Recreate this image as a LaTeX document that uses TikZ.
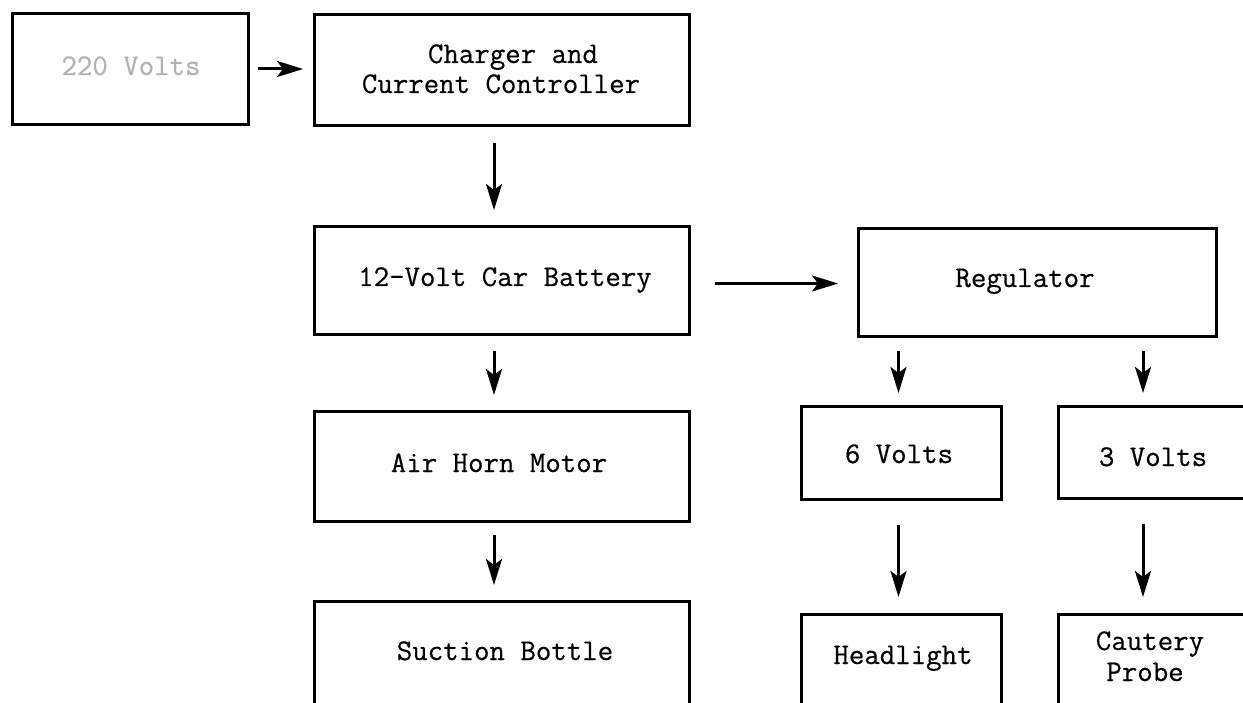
\documentclass[tikz,border=0pt]{standalone}
\usepackage{fontspec}
\newfontfamily\tw[FakeBold=0.5]{Latin Modern Mono}
\usetikzlibrary{arrows.meta}
\begin{document}
\begin{tikzpicture}[x=1pt,y=-1pt,
  box/.style={draw, line width=3pt, inner sep=0pt, anchor=north west, minimum width=#1},
  lbl/.style={font=\tw\fontsize{30}{30}\selectfont, inner sep=0pt, anchor=base},
  arr/.style={line width=3pt, -{Stealth[length=26pt,width=16pt,inset=6pt]}}]
\fill[white] (0,0) rectangle (1243,703);
\useasboundingbox (0,0) rectangle (1243,703);
\clip (0,0) rectangle (1243,703);
% boxes
\node[box=236pt, minimum height=111pt] (v220) at (11,12) {};
\node[box=375pt, minimum height=111pt] (chg) at (313,13) {};
\node[box=375pt, minimum height=108pt] (bat) at (313,225) {};
\node[box=358pt, minimum height=108pt] (reg) at (857,227) {};
\node[box=375pt, minimum height=110pt] (air) at (313,410) {};
\node[box=375pt, minimum height=130pt] (suc) at (313,600) {};
\node[box=200pt, minimum height=93pt] (v6) at (800,405) {};
\node[box=210pt, minimum height=92pt] (v3) at (1057,405) {};
\node[box=200pt, minimum height=120pt] (head) at (800,613) {};
\node[box=210pt, minimum height=120pt] (caut) at (1057,613) {};
% labels
\node[lbl, text=black!30] (t220) at (131,75) {220 Volts};
\node[lbl] (tchg1) at (513,63) {Charger and};
\node[lbl] (tchg2) at (501,93) {Current Controller};
\node[lbl] (tbat) at (505,286) {12-Volt Car Battery};
\node[lbl] (treg) at (1025,287) {Regulator};
\node[lbl] (tair) at (499,472) {Air Horn Motor};
\node[lbl] (tsuc) at (505,660) {Suction Bottle};
\node[lbl] (tv6) at (899,463) {6 Volts};
\node[lbl] (tv3) at (1153,466) {3 Volts};
\node[lbl] (thead) at (903,664) {Headlight};
\node[lbl] (tcaut1) at (1150,650) {Cautery};
\node[lbl] (tcaut2) at (1145,681) {Probe};
% connectors
\draw[arr, shorten <=8pt, shorten >=10pt] (v220.east) -- (v220.east -| chg.west);
\draw[arr, shorten <=16pt, shorten >=15pt] ([xshift=-8pt]chg.south) -- ([xshift=-8pt]bat.north);
\draw[arr, shorten <=24pt, shorten >=19pt] ([yshift=-3pt]bat.east) -- ([yshift=-3pt]bat.east -| reg.west);
\draw[arr, shorten <=15pt, shorten >=15pt] ([xshift=-8pt]bat.south) -- ([xshift=-8pt]air.north);
\draw[arr, shorten <=12pt, shorten >=15pt] ([xshift=-8pt]air.south) -- ([xshift=-8pt]suc.north);
\draw[arr, shorten <=13pt, shorten >=12pt] ([xshift=-3pt]reg.south -| v6.north) -- ([xshift=-3pt]v6.north);
\draw[arr, shorten <=13pt, shorten >=12pt] ([xshift=86pt]reg.south -| v3.north west) -- ([xshift=86pt]v3.north west);
\draw[arr, shorten <=24pt, shorten >=16pt] ([xshift=-3pt]v6.south) -- ([xshift=-3pt]head.north);
\draw[arr, shorten <=24pt, shorten >=16pt] ([xshift=86pt]v3.south west) -- ([xshift=86pt]caut.north west);
\end{tikzpicture}
\end{document}
